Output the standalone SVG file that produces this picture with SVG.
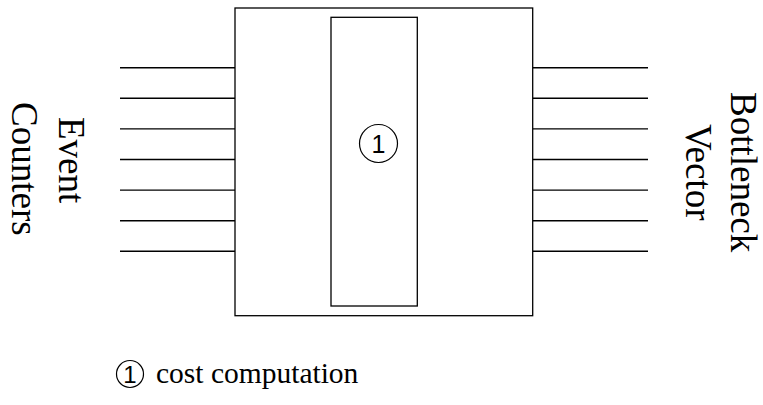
<svg xmlns="http://www.w3.org/2000/svg" width="763" height="405" viewBox="0 0 763 405">
<style>
.box{fill:none;stroke:#000;stroke-width:1.3}
.wire{stroke:#000;stroke-width:1.4}
.lbl{font-family:"Liberation Serif","Times New Roman",serif;font-size:37px;fill:#000}
.num{font-family:"Liberation Sans",Arial,sans-serif;font-size:25px;fill:#000;text-anchor:middle}
.circ{fill:none;stroke:#000;stroke-width:1.2}
</style>
<rect width="763" height="405" fill="#fff"/>
<g id="connectors">
<g id="inputs">
<line class="wire" x1="120" y1="67.7" x2="235" y2="67.7"/>
<line class="wire" x1="120" y1="98.3" x2="235" y2="98.3"/>
<line class="wire" x1="120" y1="128.9" x2="235" y2="128.9"/>
<line class="wire" x1="120" y1="159.5" x2="235" y2="159.5"/>
<line class="wire" x1="120" y1="190.1" x2="235" y2="190.1"/>
<line class="wire" x1="120" y1="220.7" x2="235" y2="220.7"/>
<line class="wire" x1="120" y1="251.3" x2="235" y2="251.3"/>
</g>
<g id="outputs">
<line class="wire" x1="533" y1="67.7" x2="648" y2="67.7"/>
<line class="wire" x1="533" y1="98.3" x2="648" y2="98.3"/>
<line class="wire" x1="533" y1="128.9" x2="648" y2="128.9"/>
<line class="wire" x1="533" y1="159.5" x2="648" y2="159.5"/>
<line class="wire" x1="533" y1="190.1" x2="648" y2="190.1"/>
<line class="wire" x1="533" y1="220.7" x2="648" y2="220.7"/>
<line class="wire" x1="533" y1="251.3" x2="648" y2="251.3"/>
</g>
</g>
<g id="outer-box">
<rect class="box" x="235" y="8" width="297.7" height="307.7"/>
</g>
<g id="cost-unit">
<rect class="box" x="331" y="17.3" width="86.3" height="288.7"/>
<circle class="circ" cx="378.5" cy="143.5" r="19"/>
<text class="num" x="378.5" y="152.5">1</text>
</g>
<g id="label-event-counters">
<text class="lbl" transform="translate(59,117) rotate(90)">Event</text>
<text class="lbl" transform="translate(12,102) rotate(90)">Counters</text>
</g>
<g id="label-bottleneck-vector">
<text class="lbl" transform="translate(731,92) rotate(90)">Bottleneck</text>
<text class="lbl" transform="translate(686,124) rotate(90)">Vector</text>
</g>
<g id="legend">
<circle class="circ" cx="130" cy="374" r="13.5"/>
<text class="num" x="130" y="382.5" style="font-size:24px">1</text>
<text class="lbl" x="156" y="383" style="font-size:29.5px">cost computation</text>
</g>
</svg>
